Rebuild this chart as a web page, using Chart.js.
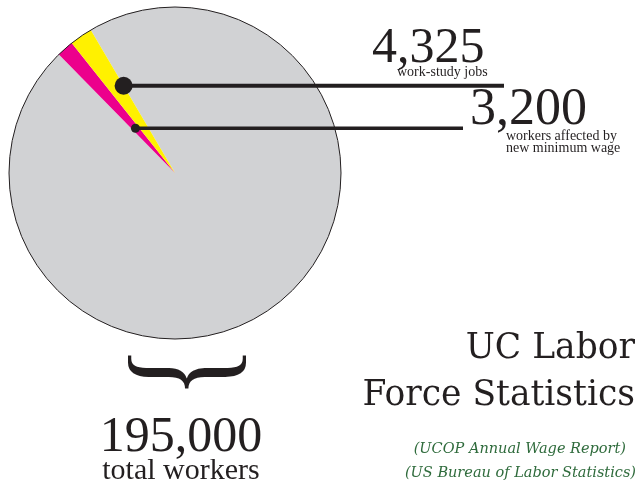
<!DOCTYPE html>
<html>
<head>
<meta charset="utf-8">
<title>UC Labor Force Statistics</title>
<script src="https://cdn.jsdelivr.net/npm/chart.js@4"></script>
<style>
  html, body { margin: 0; padding: 0; background: #ffffff; }
  #wrap { position: relative; width: 637px; height: 484px; }
</style>
</head>
<body>
<div id="wrap">
  <canvas id="laborChart" width="637" height="484"></canvas>
</div>
<script>
// data
const sliceLabels = ['Other UC workers', 'Workers affected by new minimum wage', 'Work-study jobs'];
const sliceValues = [187475, 3200, 4325];
const sliceColors = ['#d1d2d4', '#ec008c', '#fff100'];
const totalWorkers = 195000;
const calloutNumbers = ['4,325', '3,200'];
const calloutCaptions = [['work-study jobs'], ['workers affected by', 'new minimum wage']];
const titleLines = ['UC Labor', 'Force Statistics'];
const sourceLines = ['(UCOP Annual Wage Report)', '(US Bureau of Labor Statistics)'];

const ink = '#231f20';

// outline of the pie, plus callouts and texts
const decorations = {
  id: 'decorations',
  afterDatasetsDraw(chart) {
    const ctx = chart.ctx;
    const arcs = chart.getDatasetMeta(0).data;
    const cx = arcs[0].x, cy = arcs[0].y, r = arcs[0].outerRadius;

    ctx.save();
    ctx.beginPath();
    ctx.arc(cx, cy, r, 0, Math.PI * 2);
    ctx.lineWidth = 1;
    ctx.strokeStyle = ink;
    ctx.stroke();

    // callout for work-study jobs (yellow slice)
    const y = arcs[2];
    const ya = y.endAngle;
    const yx = cx + Math.cos(ya) * r * 0.61, yy = cy + Math.sin(ya) * r * 0.61;
    ctx.strokeStyle = ink;
    ctx.fillStyle = ink;
    ctx.lineWidth = 4;
    ctx.beginPath(); ctx.moveTo(yx, yy); ctx.lineTo(504, yy); ctx.stroke();
    ctx.beginPath(); ctx.arc(yx, yy, 9, 0, Math.PI * 2); ctx.fill();

    // callout for minimum wage (magenta slice)
    const m = arcs[1];
    const ma = (m.startAngle + m.endAngle) / 2;
    const mx = cx + Math.cos(ma) * r * 0.36, my = cy + Math.sin(ma) * r * 0.36;
    ctx.lineWidth = 3.5;
    ctx.beginPath(); ctx.moveTo(mx, my); ctx.lineTo(463, my); ctx.stroke();
    ctx.beginPath(); ctx.arc(mx, my, 4.5, 0, Math.PI * 2); ctx.fill();

    // callout texts
    ctx.textBaseline = 'alphabetic';
    ctx.textAlign = 'left';
    ctx.font = '50px "Liberation Serif"';
    ctx.fillText(calloutNumbers[0], 372, 62);
    ctx.font = '14px "Liberation Serif"';
    ctx.fillText(calloutCaptions[0][0], 397, 76);

    ctx.font = '52px "Liberation Serif"';
    ctx.fillText(calloutNumbers[1], 470, 124);
    ctx.font = '14px "Liberation Serif"';
    ctx.fillText(calloutCaptions[1][0], 506, 140);
    ctx.fillText(calloutCaptions[1][1], 506, 152);

    // brace under the pie
    ctx.save();
    ctx.translate(184, 372);
    ctx.rotate(Math.PI / 2);
    ctx.scale(1.15, 1.47);
    ctx.font = '96px "Liberation Serif"';
    ctx.textAlign = 'center';
    ctx.textBaseline = 'middle';
    ctx.fillText('}', 0, 0);
    ctx.restore();

    // total
    ctx.textAlign = 'center';
    ctx.font = '50px "Liberation Serif"';
    ctx.fillText(totalWorkers.toLocaleString('en-US'), 181, 451);
    ctx.font = '30px "Liberation Serif"';
    ctx.fillText('total workers', 181, 479);

    // title
    ctx.textAlign = 'right';
    ctx.font = '34.5px "DejaVu Serif"';
    ctx.fillText(titleLines[0], 635, 358);
    ctx.fillText(titleLines[1], 635, 405);

    // sources
    ctx.fillStyle = '#2f6b3c';
    ctx.font = 'italic 14.5px "DejaVu Serif"';
    ctx.fillText(sourceLines[0], 626, 453);
    ctx.fillText(sourceLines[1], 636, 477);
    ctx.restore();
  }
};

new Chart(document.getElementById('laborChart'), {
  type: 'pie',
  data: {
    labels: sliceLabels,
    datasets: [{
      data: sliceValues,
      backgroundColor: sliceColors,
      borderWidth: 0
    }]
  },
  options: {
    responsive: false,
    animation: false,
    rotation: -30.5,
    layout: { padding: { left: 9, top: 7, right: 296, bottom: 145 } },
    plugins: {
      legend: { display: false },
      tooltip: { enabled: false }
    }
  },
  plugins: [decorations]
});
</script>
</body>
</html>
